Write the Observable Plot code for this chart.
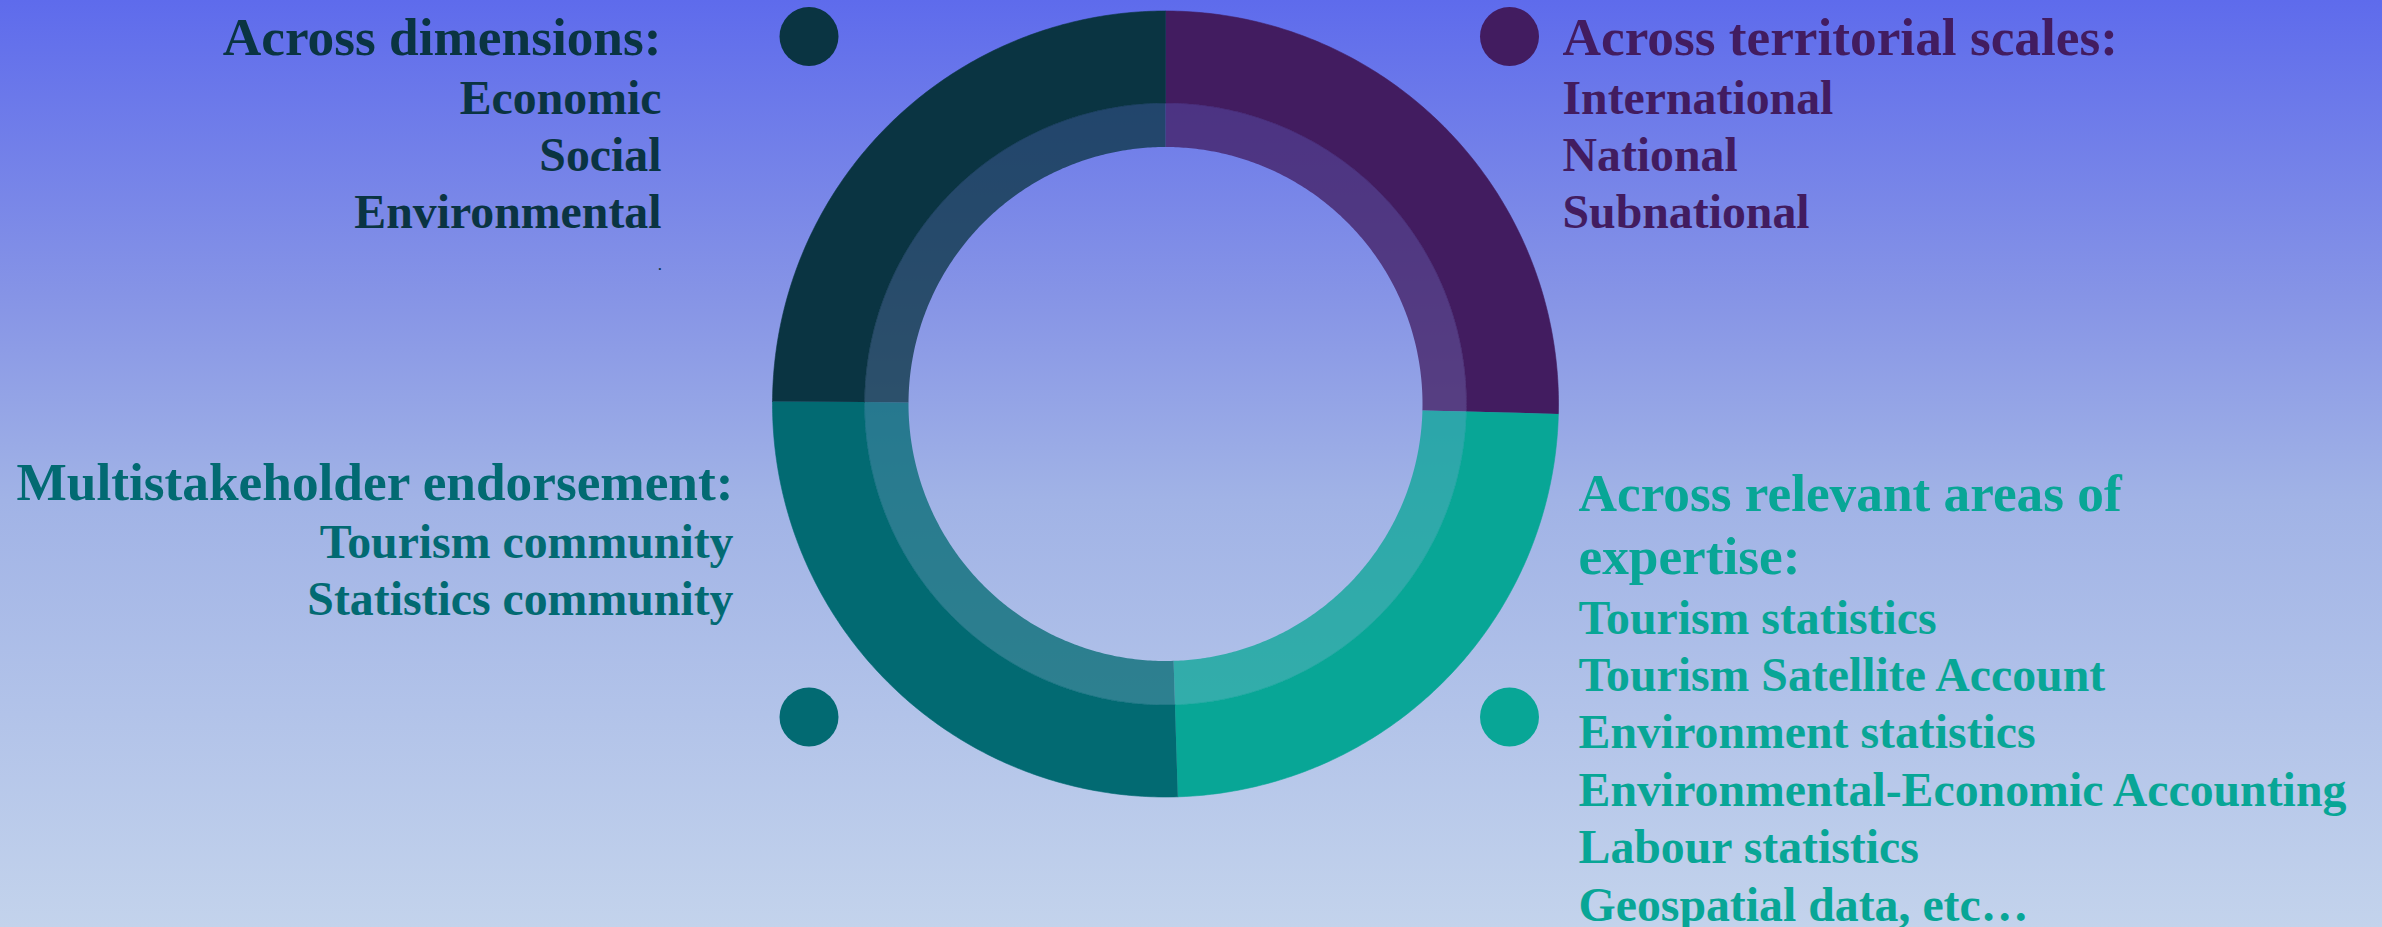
<!DOCTYPE html>
<html>
<head>
<meta charset="utf-8">
<script src="https://cdn.jsdelivr.net/npm/d3@7"></script>
<script src="https://cdn.jsdelivr.net/npm/@observablehq/plot@0.6"></script>
<style>
  html, body { margin: 0; padding: 0; background: #c3d3ec; overflow: hidden; }
  #chart svg { display: block; }
</style>
</head>
<body>
<div id="chart"></div>
<script>
// ---------- DATA ----------
const segments = ["Across territorial scales", "Across relevant areas of expertise", "Multistakeholder endorsement", "Across dimensions"];
const shares = [25.4, 24.1, 25.6, 24.9];
const segmentColors = ["#421c60", "#08a696", "#026a72", "#0a3442"];

const dimTitle = ["Across dimensions:"];
const dimItems = ["Economic", "Social", "Environmental"];
const terTitle = ["Across territorial scales:"];
const terItems = ["International", "National", "Subnational"];
const mulTitle = ["Multistakeholder endorsement:"];
const mulItems = ["Tourism community", "Statistics community"];
const expTitle = ["Across relevant areas of", "expertise:"];
const expItems = ["Tourism statistics", "Tourism Satellite Account", "Environment statistics", "Environmental-Economic Accounting", "Labour statistics", "Geospatial data, etc…"];

// ---------- LAYOUT ----------
const W = 2382, H = 927;
const ring = {cx: 1165, cy: 403.5, r0: 257, r1: 301, r2: 393};
const font = "'Liberation Serif', 'Times New Roman', Times, serif";
const titleSize = 53.3, itemSize = 47.8, titleStep = 63, itemStep = 57.4;

const blocks = [
  {seg: 3, title: dimTitle, items: dimItems, x: 661, anchor: "end", y: 54, gap: 59, dot: [808.5, 36], trail: true},
  {seg: 0, title: terTitle, items: terItems, x: 1562, anchor: "start", y: 54, gap: 59, dot: [1509, 36]},
  {seg: 2, title: mulTitle, items: mulItems, x: 733, anchor: "end", y: 499, gap: 58, dot: [808.5, 716.5]},
  {seg: 1, title: expTitle, items: expItems, x: 1578, anchor: "start", y: 510, gap: 60, dot: [1509, 716.5]}
];

// ---------- DERIVED ----------
const total = d3.sum(shares);
const arcPts = [];
let acc = 0;
segments.forEach((s, i) => {
  const a0 = acc / total * 2 * Math.PI;
  const a1 = (acc + shares[i]) / total * 2 * Math.PI;
  acc += shares[i];
  for (const [part, ri, ro] of [["band", ring.r0, ring.r1], ["outer", ring.r1, ring.r2]]) {
    const n = 160;
    const key = s + "|" + part;
    for (let k = 0; k <= n; k++) {
      const a = a0 + (a1 - a0) * k / n;
      arcPts.push({key, part, color: segmentColors[i], x: ring.cx + ro * Math.sin(a), y: ring.cy - ro * Math.cos(a)});
    }
    for (let k = n; k >= 0; k--) {
      const a = a0 + (a1 - a0) * k / n;
      arcPts.push({key, part, color: segmentColors[i], x: ring.cx + ri * Math.sin(a), y: ring.cy - ri * Math.cos(a)});
    }
  }
});

const dots = blocks.map(b => ({x: b.dot[0], y: b.dot[1], color: segmentColors[b.seg]}));

const textMarks = [];
for (const b of blocks) {
  const lines = [];
  let y = b.y;
  b.title.forEach((t, j) => { if (j > 0) y += titleStep; lines.push({text: t, y, size: titleSize}); });
  y += b.gap;
  b.items.forEach((t, j) => { if (j > 0) y += itemStep; lines.push({text: t, y, size: itemSize}); });
  if (b.trail) lines.push({text: ".", y: y + 42, size: 13});
  textMarks.push(Plot.text(lines, {
    x: () => b.x, y: "y", text: "text", fontSize: "size",
    fill: segmentColors[b.seg], textAnchor: b.anchor, lineAnchor: "bottom",
    fontFamily: font, fontWeight: "bold"
  }));
}

const chart = Plot.plot({
  width: W, height: H, margin: 0,
  x: {domain: [0, W], axis: null},
  y: {domain: [0, H], range: [0, H], axis: null},
  color: {type: "identity"},
  style: {background: "linear-gradient(to bottom, #5e6bec 0%, #8694e6 32%, #a1b3e6 54%, #c3d3ec 100%)", overflow: "visible"},
  marks: [
    Plot.line(arcPts.filter(d => d.part === "band"), {x: "x", y: "y", z: "key", fill: "color", fillOpacity: 0.75, stroke: "none", curve: "linear"}),
    Plot.line(arcPts.filter(d => d.part === "outer"), {x: "x", y: "y", z: "key", fill: "color", stroke: "color", strokeWidth: 0.6, curve: "linear"}),
    Plot.dot(dots, {x: "x", y: "y", r: 29.5, fill: "color", stroke: "none"}),
    ...textMarks
  ]
});
document.getElementById("chart").appendChild(chart);
</script>
</body>
</html>
